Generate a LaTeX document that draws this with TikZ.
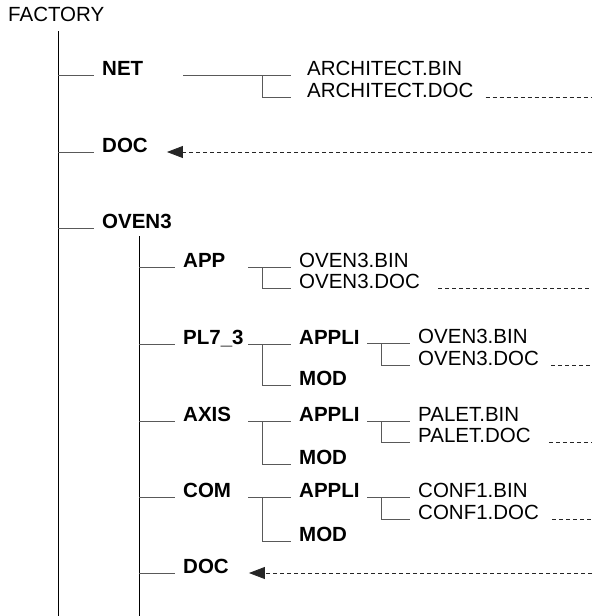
\documentclass[tikz,border=0pt]{standalone}
\usepackage{fontspec}
\setmainfont{Liberation Sans}
\usetikzlibrary{arrows.meta}
\begin{document}
\begin{tikzpicture}[x=1pt,y=-1pt,
  lbl/.style={anchor=base west, inner sep=0pt, font=\fontsize{20.5}{24}\selectfont},
  dirlbl/.style={anchor=base west, inner sep=0pt, font=\fontsize{20.5}{24}\selectfont\bfseries},
  trunk/.style={draw=black, line width=1pt},
  branch/.style={draw=black!65, line width=1pt},
  link/.style={draw=black!85, dash pattern=on 4pt off 3pt, line width=0.8pt},
  ref/.style={link, -{Triangle[length=16pt,width=12pt]}}]
\useasboundingbox (0,0) rectangle (592,616);
\coordinate (R) at (592,0);
% labels
\node[lbl] (factory) at (8,21) {FACTORY};
\node[dirlbl] (net) at (102,75) {NET};
\node[lbl] (ab) at (307,75) {ARCHITECT.BIN};
\node[lbl] (ad) at (307,97) {ARCHITECT.DOC};
\node[dirlbl] (doc1) at (102,152) {DOC};
\node[dirlbl] (oven) at (102,228) {OVEN3};
\node[dirlbl] (app) at (183,267) {APP};
\node[lbl] (ob1) at (299,267) {OVEN3.BIN};
\node[lbl] (od1) at (299,288) {OVEN3.DOC};
\node[dirlbl] (pl) at (183,344) {PL7\_3};
\node[dirlbl] (ap1) at (299,344) {APPLI};
\node[dirlbl] (mod1) at (299,385) {MOD};
\node[lbl] (ob2) at (418,343) {OVEN3.BIN};
\node[lbl] (od2) at (418,365) {OVEN3.DOC};
\node[dirlbl] (axis) at (183,421) {AXIS};
\node[dirlbl] (ap2) at (299,421) {APPLI};
\node[dirlbl] (mod2) at (299,464) {MOD};
\node[lbl] (pb) at (418,421) {PALET.BIN};
\node[lbl] (pd) at (418,442) {PALET.DOC};
\node[dirlbl] (com) at (183,497) {COM};
\node[dirlbl] (ap3) at (299,497) {APPLI};
\node[dirlbl] (mod3) at (299,541) {MOD};
\node[lbl] (cb) at (418,497) {CONF1.BIN};
\node[lbl] (cd) at (418,519) {CONF1.DOC};
\node[dirlbl] (doc2) at (183,573) {DOC};
% trunks
\coordinate (t1) at (58,31);
\coordinate (t1b) at (58,616);
\coordinate (t2) at (139,236);
\coordinate (t2b) at (139,616);
\draw[trunk] (t1) -- (t1b);
\draw[trunk] (t2) -- (t2b);
% level 1 connectors
\foreach \n in {net,doc1,oven}
  \draw[branch] (t1 |- \n.base) -- ([xshift=-8pt]\n.base west);
% level 2 connectors
\foreach \n in {app,pl,axis,com,doc2}
  \draw[branch] (t2 |- \n.base) -- ([xshift=-8pt]\n.base west);
% NET fork
\draw[branch] ([xshift=-124pt]ab.base west) -- ([xshift=-16pt]ab.base west);
\draw[branch] ([xshift=-45pt]ab.base west) |- ([xshift=-16pt]ad.base west);
% APP fork
\draw[branch] ([xshift=-51pt]ob1.base west) -- ([xshift=-8pt]ob1.base west);
\draw[branch] ([xshift=-37pt]ob1.base west) |- ([xshift=-8pt]od1.base west);
% PL7_3 fork
\draw[branch] ([xshift=-51pt]ap1.base west) -- ([xshift=-8pt]ap1.base west);
\draw[branch] ([xshift=-37pt]ap1.base west) |- ([xshift=-8pt]mod1.base west);
\draw[branch] ([xshift=-51pt]ob2.base west) -- ([xshift=-8pt]ob2.base west);
\draw[branch] ([xshift=-37pt]ob2.base west) |- ([xshift=-8pt]od2.base west);
% AXIS fork
\draw[branch] ([xshift=-51pt]ap2.base west) -- ([xshift=-8pt]ap2.base west);
\draw[branch] ([xshift=-37pt]ap2.base west) |- ([xshift=-8pt]mod2.base west);
\draw[branch] ([xshift=-51pt]pb.base west) -- ([xshift=-8pt]pb.base west);
\draw[branch] ([xshift=-37pt]pb.base west) |- ([xshift=-8pt]pd.base west);
% COM fork
\draw[branch] ([xshift=-51pt]ap3.base west) -- ([xshift=-8pt]ap3.base west);
\draw[branch] ([xshift=-37pt]ap3.base west) |- ([xshift=-8pt]mod3.base west);
\draw[branch] ([xshift=-51pt]cb.base west) -- ([xshift=-8pt]cb.base west);
\draw[branch] ([xshift=-37pt]cb.base west) |- ([xshift=-8pt]cd.base west);
% dashed links
\draw[link] ([xshift=12pt]ad.base east) -- (R |- ad.base);
\draw[link] ([xshift=18pt]od1.base east) -- (R |- od1.base);
\draw[link] ([xshift=12pt]od2.base east) -- (R |- od2.base);
\draw[link] ([xshift=18pt]pd.base east) -- (R |- pd.base);
\draw[link] ([xshift=13pt]cd.base east) -- (R |- cd.base);
\draw[ref] (R |- doc1.base) -- ([xshift=19pt]doc1.base east);
\draw[ref] (R |- doc2.base) -- ([xshift=20pt]doc2.base east);
\end{tikzpicture}
\end{document}
